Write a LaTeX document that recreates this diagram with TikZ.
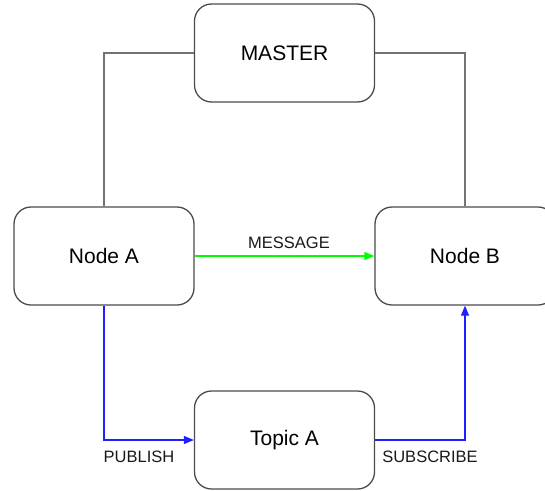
\documentclass[tikz,border=0pt]{standalone}
\usepackage{fontspec}
\setmainfont{Liberation Sans}
\usetikzlibrary{arrows.meta}
\definecolor{lgreen}{RGB}{0,255,0}
\definecolor{lblue}{RGB}{30,30,255}
\begin{document}
\begin{tikzpicture}[x=1pt,y=-1pt,
  box/.style={draw=black!70,line width=1.3pt,rounded corners=17pt,fill=white,
    minimum width=180pt,minimum height=98pt,inner sep=0pt,font=\fontsize{21}{25}\selectfont},
  gray line/.style={draw=black!55,line width=1.2pt},
  lbl/.style={font=\fontsize{16.5}{19}\selectfont,inner sep=0pt,text=black!90},
  tip/.style={-{Triangle[length=10pt,width=8pt]}},
]
\useasboundingbox (0,0) rectangle (545,490);
\node[box] (master) at (284.5,53) {MASTER};
\node[box] (nodea) at (104,256) {Node A};
\node[box] (nodeb) at (465,256) {Node B};
\node[box] (topic) at (284.5,440) {Topic A};
\draw[gray line] (master.west) -| (nodea.north);
\draw[gray line] (master.east) -| (nodeb.north);
\draw[tip,draw=lgreen,line width=1.2pt] (nodea.east) -- node[lbl,above=7pt,xshift=4.5pt] (msg) {MESSAGE} (nodeb.west);
\draw[tip,draw=lblue,line width=1.2pt] (nodea.south) |- (topic.west);
\draw[tip,draw=lblue,line width=1.2pt] (topic.east) -| (nodeb.south);
\node[lbl] (pub) at (139,456.5) {PUBLISH};
\node[lbl] (sub) at (430,456.5) {SUBSCRIBE};
\end{tikzpicture}
\end{document}
